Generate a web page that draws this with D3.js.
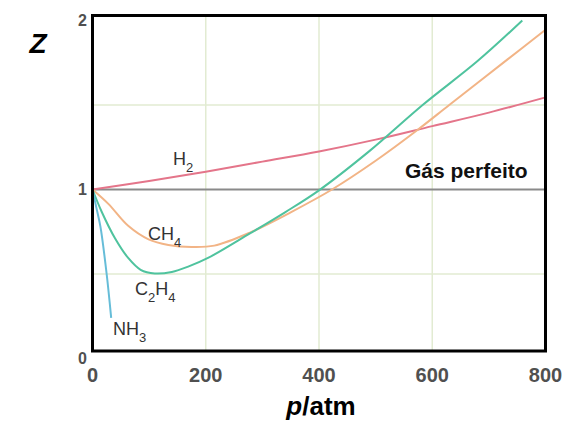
<!DOCTYPE html>
<html lang="pt">
    <head>
        <meta charset="utf-8">
        <title>Fator de compressibilidade Z</title>
        <script type="text/javascript" src="https://cdn.jsdelivr.net/npm/d3@7"></script>
        <style type="text/css">
            body { margin: 0; background: #fff; }
            text { font-family: "Liberation Sans", Arial, sans-serif; }
        </style>
    </head>
    <body>
        <script type="text/javascript">
            var w = 562;
            var h = 421;

            //Data: [p in atm, Z]
            var h2 = [[0, 1.0], [100, 1.05], [200, 1.105], [300, 1.165], [400, 1.225], [500, 1.295],
                      [600, 1.375], [700, 1.455], [800, 1.545]];
            var ch4 = [[0, 1.0], [28, 0.915], [63, 0.785], [99, 0.705], [134, 0.672], [175, 0.66],
                       [215, 0.668], [278, 0.745], [350, 0.865], [423, 1.0], [500, 1.17], [575, 1.355],
                       [630, 1.5], [733, 1.77], [800, 1.945]];
            var c2h4 = [[0, 1.0], [16, 0.87], [40, 0.71], [63, 0.595], [85, 0.525], [110, 0.503],
                        [140, 0.512], [170, 0.545], [204, 0.595], [278, 0.74], [340, 0.865], [400, 0.995],
                        [490, 1.23], [583, 1.5], [680, 1.76], [759, 2.0]];
            var nh3 = [[0, 1.0], [7, 0.89], [14, 0.78], [25, 0.50], [33, 0.24]];
            var ideal = [[0, 1], [800, 1]];

            var xTicks = [0, 200, 400, 600, 800];
            var yTicks = [0, 1, 2];
            var xGrid = [200, 400, 600];
            var yGrid = [0.5, 1.5];

            var svg = d3.select("body")
                        .append("svg")
                        .attr("width", w)
                        .attr("height", h);

            //Scales
            var xScale = d3.scaleLinear()
                            .domain([0, 800])
                            .range([92.5, 545.5]);

            var yScale = d3.scaleLinear()
                            .domain([0, 2])
                            .range([358.5, 20.5]);

            //Frame box (slightly shorter than the axis range, like the picture)
            var frame = { top: 15.5, bottom: 351 };

            //Grid lines
            svg.selectAll("line.vgrid")
                .data(xGrid)
                .enter()
                .append("line")
                .attr("class", "vgrid")
                .attr("x1", function(d) { return xScale(d); })
                .attr("x2", function(d) { return xScale(d); })
                .attr("y1", frame.top)
                .attr("y2", frame.bottom)
                .attr("stroke", "#e2ebd2")
                .attr("stroke-width", 1.5);

            svg.selectAll("line.hgrid")
                .data(yGrid)
                .enter()
                .append("line")
                .attr("class", "hgrid")
                .attr("x1", xScale(0))
                .attr("x2", xScale(800))
                .attr("y1", function(d) { return yScale(d); })
                .attr("y2", function(d) { return yScale(d); })
                .attr("stroke", "#e2ebd2")
                .attr("stroke-width", 1.5);

            var line = d3.line()
                        .x(function(d) { return xScale(d[0]); })
                        .y(function(d) { return yScale(d[1]); })
                        .curve(d3.curveCatmullRom.alpha(0.5));

            //Ideal gas line
            svg.append("path")
                .attr("d", line(ideal))
                .attr("fill", "none")
                .attr("stroke", "#8a8a8a")
                .attr("stroke-width", 2.2);

            var series = [
                { data: h2, color: "#e4758a" },
                { data: ch4, color: "#f2b486" },
                { data: c2h4, color: "#4fc39e" },
                { data: nh3, color: "#66bdd8" }
            ];

            svg.selectAll("path.gas")
                .data(series)
                .enter()
                .append("path")
                .attr("class", "gas")
                .attr("d", function(d) { return line(d.data); })
                .attr("fill", "none")
                .attr("stroke", function(d) { return d.color; })
                .attr("stroke-width", 2);

            //Frame
            svg.append("rect")
                .attr("x", xScale(0))
                .attr("y", frame.top)
                .attr("width", xScale(800) - xScale(0))
                .attr("height", frame.bottom - frame.top)
                .attr("fill", "none")
                .attr("stroke", "#000")
                .attr("stroke-width", 3);

            //Tick labels
            svg.selectAll("text.xtick")
                .data(xTicks)
                .enter()
                .append("text")
                .attr("class", "xtick")
                .attr("x", function(d) { return xScale(d); })
                .attr("y", 382)
                .attr("text-anchor", "middle")
                .attr("font-size", "20px")
                .attr("font-weight", "bold")
                .attr("fill", "#505050")
                .text(function(d) { return d; });

            svg.selectAll("text.ytick")
                .data(yTicks)
                .enter()
                .append("text")
                .attr("class", "ytick")
                .attr("x", 87)
                .attr("y", function(d) { return yScale(d) + 5.5; })
                .attr("text-anchor", "end")
                .attr("font-size", "16px")
                .attr("font-weight", "bold")
                .attr("fill", "#505050")
                .text(function(d) { return d; });

            //Axis titles
            svg.append("text")
                .attr("x", 38)
                .attr("y", 53)
                .attr("text-anchor", "middle")
                .attr("font-size", "28px")
                .attr("font-weight", "bold")
                .attr("font-style", "italic")
                .attr("fill", "#000")
                .text("Z");

            var xTitle = svg.append("text")
                .attr("x", 321)
                .attr("y", 415)
                .attr("text-anchor", "middle")
                .attr("font-size", "26px")
                .attr("font-weight", "bold")
                .attr("fill", "#000");
            xTitle.append("tspan").attr("font-style", "italic").text("p");
            xTitle.append("tspan").text("/atm");

            svg.append("text")
                .attr("x", 405)
                .attr("y", 178)
                .attr("font-size", "21px")
                .attr("font-weight", "bold")
                .attr("fill", "#111")
                .text("Gás perfeito");

            //Formula labels: pieces of [text, isSubscript]
            var labels = [
                { x: 173, y: 165, parts: [["H", 0], ["2", 1]] },
                { x: 148, y: 240, parts: [["CH", 0], ["4", 1]] },
                { x: 135, y: 295, parts: [["C", 0], ["2", 1], ["H", 0], ["4", 1]] },
                { x: 113, y: 335, parts: [["NH", 0], ["3", 1]] }
            ];

            labels.forEach(function(l) {
                var t = svg.append("text")
                    .attr("x", l.x)
                    .attr("y", l.y)
                    .attr("font-size", "18px")
                    .attr("fill", "#333");
                var sub = false;
                l.parts.forEach(function(p) {
                    var ts = t.append("tspan").text(p[0]);
                    if (p[1] && !sub) { ts.attr("dy", 7).attr("font-size", "13px"); sub = true; }
                    else if (p[1]) { ts.attr("font-size", "13px"); }
                    else if (sub) { ts.attr("dy", -7); sub = false; }
                });
            });
        </script>
    </body>
</html>
